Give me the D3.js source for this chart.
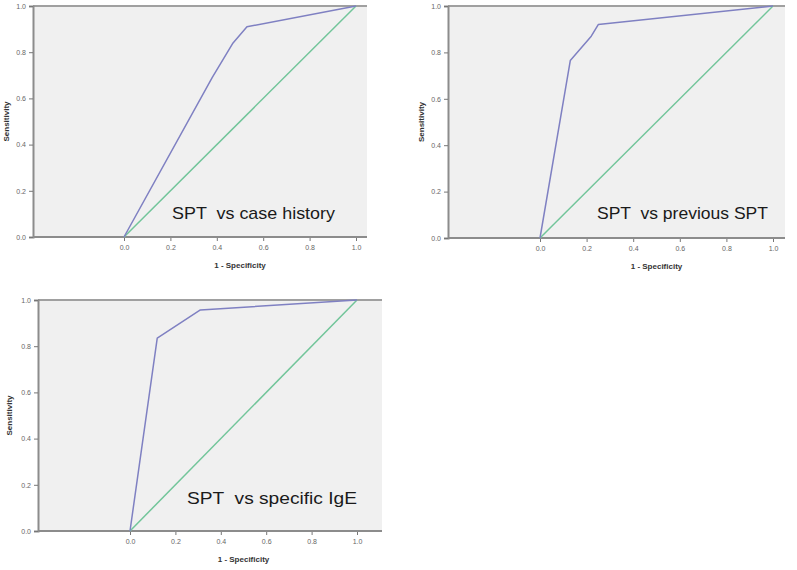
<!DOCTYPE html>
<html>
<head>
<meta charset="utf-8">
<script src="https://cdn.jsdelivr.net/npm/d3@7"></script>
<style>
  body { margin: 0; background: #fff; }
  svg { display: block; }
  .tick text { font-family: "Liberation Sans", Arial, sans-serif; }
  .note { white-space: pre; }
</style>
</head>
<body>
<svg id="chart" width="797" height="570"></svg>
<script>
// ROC curves: [1 - specificity, sensitivity]
const rocCaseHistory = [[0, 0], [0.38, 0.69], [0.47, 0.84], [0.53, 0.91], [1, 1]];
const rocPreviousSpt = [[0, 0], [0.13, 0.765], [0.22, 0.87], [0.25, 0.92], [1, 1]];
const rocSpecificIgE = [[0, 0], [0.12, 0.835], [0.31, 0.957], [1, 1]];
const diagonal = [[0, 0], [1, 1]];

const titles = ['SPT  vs case history', 'SPT  vs previous SPT', 'SPT  vs specific IgE'];
const tickValues = [0, 0.2, 0.4, 0.6, 0.8, 1.0];

// panel geometry (pixels)
const panels = [
  { roc: rocCaseHistory, title: titles[0], left: 33, zero: 124, one: 356, right: 367, top: 6, bottom: 237,
    titleX: 172, titleY: 219, titleW: 163, yLabelX: 9 },
  { roc: rocPreviousSpt, title: titles[1], left: 448, zero: 540, one: 773, right: 785, top: 6, bottom: 238,
    titleX: 597, titleY: 219, titleW: 171, yLabelX: 424 },
  { roc: rocSpecificIgE, title: titles[2], left: 38, zero: 130, one: 357, right: 382, top: 300, bottom: 531,
    titleX: 187, titleY: 504, titleW: 170, yLabelX: 12 }
];

const svg = d3.select('#chart');

panels.forEach((p) => {
  const x = d3.scaleLinear().domain([0, 1]).range([p.zero, p.one]);
  const y = d3.scaleLinear().domain([0, 1]).range([p.bottom, p.top]);
  const g = svg.append('g');

  // plot background
  g.append('rect')
    .attr('x', p.left).attr('y', p.top)
    .attr('width', p.right - p.left).attr('height', p.bottom - p.top)
    .attr('fill', '#f0f0f0');

  // top frame line
  g.append('line')
    .attr('x1', p.left).attr('x2', p.right)
    .attr('y1', p.top).attr('y2', p.top)
    .attr('stroke', '#a0a0a0').attr('stroke-width', 2);

  // axes
  const xAxis = d3.axisBottom(x).tickValues(tickValues).tickFormat(d3.format('.1f'))
    .tickSize(4).tickPadding(4);
  const yAxis = d3.axisLeft(y).tickValues(tickValues).tickFormat(d3.format('.1f'))
    .tickSize(4).tickPadding(3);

  const gx = g.append('g').attr('transform', `translate(0,${p.bottom})`).call(xAxis);
  gx.select('.domain').remove();
  gx.append('line')
    .attr('x1', p.left).attr('x2', p.right)
    .attr('stroke', '#8c8c8c').attr('stroke-width', 2);

  const gy = g.append('g').attr('transform', `translate(${p.left},0)`).call(yAxis);
  gy.select('.domain').attr('stroke', '#8c8c8c').attr('stroke-width', 2);

  g.selectAll('.tick line').attr('stroke', '#777');
  g.selectAll('.tick text').attr('fill', '#666').style('font-size', '7px');

  // axis titles
  g.append('text')
    .attr('x', (p.zero + p.one) / 2).attr('y', p.bottom + 31)
    .attr('text-anchor', 'middle')
    .attr('font-family', '"Liberation Sans", Arial, sans-serif')
    .attr('font-size', 8).attr('font-weight', 'bold').attr('fill', '#333')
    .text('1 - Specificity');

  g.append('text')
    .attr('transform', `translate(${p.yLabelX},${(p.top + p.bottom) / 2}) rotate(-90)`)
    .attr('text-anchor', 'middle')
    .attr('font-family', '"Liberation Sans", Arial, sans-serif')
    .attr('font-size', 8).attr('font-weight', 'bold').attr('fill', '#333')
    .text('Sensitivity');

  const line = d3.line().x((d) => x(d[0])).y((d) => y(d[1]));

  // reference diagonal
  g.append('path')
    .attr('d', line(diagonal))
    .attr('fill', 'none').attr('stroke', '#72c59a').attr('stroke-width', 1.5);

  // ROC curve
  g.append('path')
    .attr('d', line(p.roc))
    .attr('fill', 'none').attr('stroke', '#7f80c2').attr('stroke-width', 1.5)
    .attr('stroke-linejoin', 'round');

  // annotation
  g.append('text')
    .attr('class', 'note')
    .attr('x', p.titleX).attr('y', p.titleY)
    .attr('font-family', '"Liberation Sans", Arial, sans-serif')
    .attr('font-size', 17).attr('fill', '#1a1a1a')
    .attr('textLength', p.titleW)
    .attr('lengthAdjust', 'spacingAndGlyphs')
    .text(p.title);
});
</script>
</body>
</html>
